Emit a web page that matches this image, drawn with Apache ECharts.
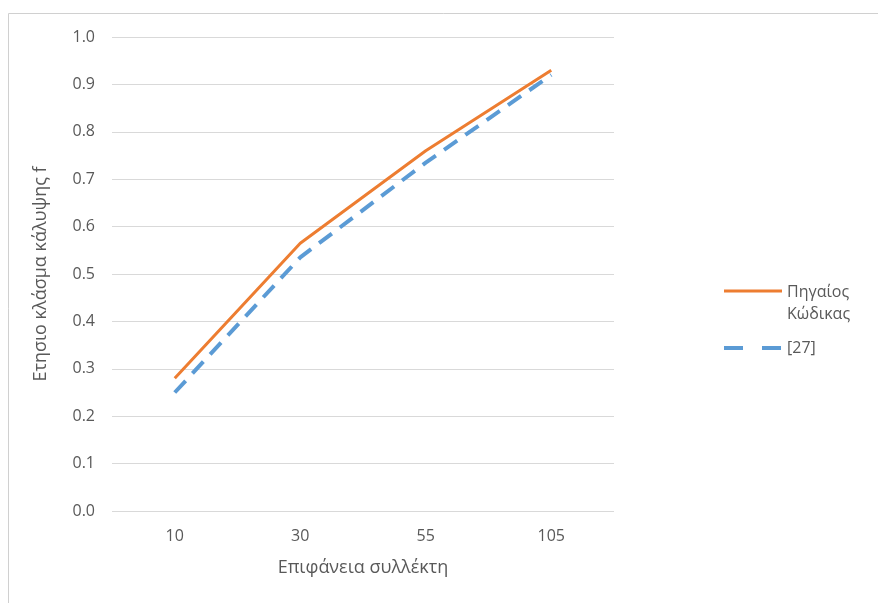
<!DOCTYPE html>
<html>
<head>
<meta charset="utf-8">
<script src="https://cdn.jsdelivr.net/npm/echarts@6/dist/echarts.min.js"></script>
<style>html,body{margin:0;padding:0;background:#fff;}#c{width:878px;height:603px;}</style>
</head>
<body>
<div id="c"></div>
<script>
const categories = ['10', '30', '55', '105'];
const sourceCode = [0.28, 0.565, 0.76, 0.93];
const ref27 = [0.25, 0.535, 0.735, 0.92];
const seriesNames = ['Πηγαίος\nΚώδικας', '[27]'];
const xTitle = 'Επιφάνεια συλλέκτη';
const yTitle = 'Ετησιο κλάσμα κάλυψης f';

const ORANGE = '#ED7D31';
const BLUE = '#5B9BD5';
const TXT = '#595959';
const FONT = '"Open Sans", "Noto Sans", sans-serif';

const chart = echarts.init(document.getElementById('c'), null, {renderer: 'canvas'});
chart.setOption({
  animation: false,
  backgroundColor: '#fff',
  textStyle: {fontFamily: FONT},
  grid: {left: 112, right: 264, top: 37, bottom: 92, containLabel: false},
  xAxis: {
    type: 'category',
    data: categories,
    boundaryGap: true,
    axisLine: {show: false},
    axisTick: {show: false},
    axisLabel: {color: TXT, fontSize: 16, margin: 17, fontFamily: FONT},
    name: xTitle,
    nameLocation: 'middle',
    nameGap: 48,
    nameTextStyle: {color: TXT, fontSize: 18, fontFamily: FONT}
  },
  yAxis: {
    type: 'value',
    min: 0, max: 1, interval: 0.1,
    axisLine: {show: false},
    axisTick: {show: false},
    splitLine: {lineStyle: {color: '#d9d9d9', width: 1}},
    axisLabel: {color: TXT, fontSize: 16, margin: 17, fontFamily: FONT,
      formatter: v => v.toFixed(1)},
    name: yTitle,
    nameLocation: 'middle',
    nameGap: 62,
    nameTextStyle: {color: TXT, fontSize: 18, fontFamily: FONT}
  },
  series: [
    {name: seriesNames[0], type: 'line', data: sourceCode, symbol: 'none',
     lineStyle: {color: ORANGE, width: 3}, itemStyle: {color: ORANGE}, z: 3},
    {name: seriesNames[1], type: 'line', data: ref27, symbol: 'none',
     lineStyle: {color: BLUE, width: 4, type: [16, 10], cap: 'butt'}, itemStyle: {color: BLUE}, z: 2}
  ],
  graphic: [
    {type: 'line', shape: {x1: 8.5, y1: 13.5, x2: 878, y2: 13.5}, style: {stroke: '#d0d0d0', lineWidth: 1}, silent: true},
    {type: 'line', shape: {x1: 8.5, y1: 13.5, x2: 8.5, y2: 603}, style: {stroke: '#d0d0d0', lineWidth: 1}, silent: true},
    {type: 'line', shape: {x1: 724, y1: 291, x2: 782, y2: 291}, style: {stroke: ORANGE, lineWidth: 3}, silent: true},
    {type: 'text', x: 787, y: 292, style: {text: 'Πηγαίος', fill: TXT, font: '16px ' + FONT, verticalAlign: 'middle'}},
    {type: 'text', x: 787, y: 314, style: {text: 'Κώδικας', fill: TXT, font: '16px ' + FONT, verticalAlign: 'middle'}},
    {type: 'line', shape: {x1: 724, y1: 348, x2: 782, y2: 348}, style: {stroke: BLUE, lineWidth: 4, lineDash: [19, 19]}, silent: true},
    {type: 'text', x: 787, y: 348, style: {text: '[27]', fill: TXT, font: '16px ' + FONT, verticalAlign: 'middle'}}
  ]
});
</script>
</body>
</html>
